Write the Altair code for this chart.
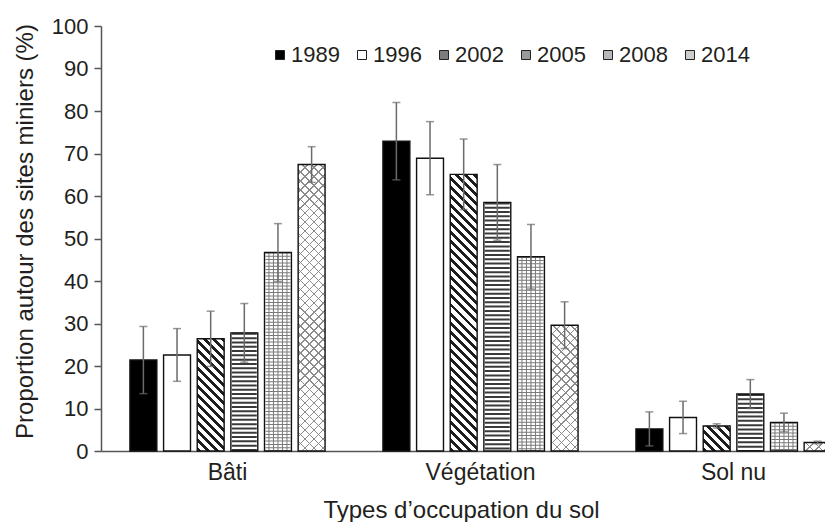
import math
import altair as alt
import pandas as pd

categories = ["Bâti", "Végétation", "Sol nu"]
years = ["1989", "1996", "2002", "2005", "2008", "2014"]

# mean proportions (%) per category, in year order
bati = [21.4, 22.6, 26.4, 27.8, 46.7, 67.4]
vegetation = [72.9, 68.9, 65.1, 58.5, 45.7, 29.6]
sol_nu = [5.2, 7.9, 5.9, 13.4, 6.7, 2.0]

# error bar half-lengths
bati_err = [7.9, 6.2, 6.5, 6.9, 6.8, 4.2]
vegetation_err = [9.1, 8.6, 8.3, 8.9, 7.6, 5.5]
sol_nu_err = [4.0, 3.8, 0.5, 3.4, 2.2, 0.3]

# legend / base fill colours
fills = ["#000000", "#ffffff", "#7d7d7d", "#9a9a9a", "#b8b8b8", "#cdcdcd"]

rows = []
for cat, vals, errs in [("Bâti", bati, bati_err),
                        ("Végétation", vegetation, vegetation_err),
                        ("Sol nu", sol_nu, sol_nu_err)]:
    for y, v, e in zip(years, vals, errs):
        rows.append({"cat": cat, "year": y, "value": v, "err": e})
df = pd.DataFrame(rows)

FONT = "Liberation Sans"
TXT = "#231f20"
AX = "#555555"

PLOT_W, PLOT_H = 724, 425
X_RANGE = 759
PX_PER_UNIT = PLOT_H / 100.0
OFF_PI, OFF_PO = 0.2, 0.86
_step = (X_RANGE / 3) / (6 - OFF_PI + 2 * OFF_PO)
BAR_W = _step * (1 - OFF_PI)

x_enc = alt.X("cat:N", sort=categories,
              scale=alt.Scale(range=[0, X_RANGE], paddingInner=0, paddingOuter=0),
              axis=alt.Axis(title="Types d’occupation du sol", labelAngle=0,
                            ticks=False, tickSize=0, domainColor=AX, domainWidth=1.5,
                            labelFontSize=23, labelColor=TXT, labelBaseline="alphabetic",
                            labelPadding=28, titleFontSize=24, titleColor=TXT,
                            titleFontWeight="normal", titleX=360, titleY=66,
                            titleBaseline="alphabetic", titleAlign="center"))
xo_enc = alt.XOffset("year:N", sort=years,
                     scale=alt.Scale(paddingInner=OFF_PI, paddingOuter=OFF_PO))
y_scale = alt.Scale(domain=[0, 100], nice=False)
y_enc = alt.Y("value:Q", scale=y_scale,
              axis=alt.Axis(values=list(range(0, 101, 10)), tickSize=7, tickColor=AX,
                            tickWidth=1.5, domainColor=AX, domainWidth=1.5, grid=False,
                            labelFontSize=22, labelColor=TXT, labelPadding=6,
                            title="Proportion autour des sites miniers (%)",
                            titleFontSize=24, titleColor=TXT, titleFontWeight="normal",
                            titleX=-69, titleY=205, titleAngle=270,
                            titleBaseline="alphabetic", titleAlign="center"))
y_plain = alt.Y("value:Q", scale=y_scale)

base = alt.Chart(df).encode(x=x_enc, xOffset=xo_enc)


def hatch(value, direction, period, thick, color, bg):
    """Diagonal hatch texture as a linear gradient in the bar's bounding box."""
    w, h = BAR_W, max(value * PX_PER_UNIT, 1.0)
    k = (w + h) / (w * w + h * h)
    if direction == "back":   # lines running top-left -> bottom-right
        x1, y1, x2, y2 = 0, 1, k * w, 1 - k * h
    else:                     # lines running bottom-left -> top-right
        x1, y1, x2, y2 = 0, 0, k * w, k * h
    length = (w + h) / math.sqrt(2)
    n = int(math.ceil(length / period)) + 1
    stops = []
    for i in range(n):
        a = min(i * period / length, 1.0)
        b = min((i * period + thick) / length, 1.0)
        c = min((i + 1) * period / length, 1.0)
        stops += [alt.GradientStop(offset=a, color=color),
                  alt.GradientStop(offset=b, color=color),
                  alt.GradientStop(offset=b, color=bg),
                  alt.GradientStop(offset=c, color=bg)]
        if c >= 1.0:
            break
    return alt.LinearGradient(gradient="linear", stops=stops, x1=x1, y1=y1, x2=x2, y2=y2)


layers = []

bars_fill = base.mark_bar(strokeWidth=0).encode(
    y=y_enc,
    fill=alt.Fill("year:N", sort=years,
                  scale=alt.Scale(domain=years, range=fills),
                  legend=alt.Legend(title=None, orient="none", direction="horizontal",
                                    legendX=168, legendY=18, symbolType="square",
                                    symbolSize=81, symbolStrokeColor="#222222",
                                    symbolStrokeWidth=1,
                                    labelFontSize=22, labelColor=TXT, labelOffset=0,
                                    columnPadding=11, padding=0)),
)
layers.append(bars_fill)

# white ground for the striped / gridded bars
white_cover = base.transform_filter(
    (alt.datum.year == "2005") | (alt.datum.year == "2008")
).mark_bar(fill="#ffffff", strokeWidth=0).encode(y=y_plain)
layers.append(white_cover)

# diagonal hatch (2002) and cross-hatch (2014)
for cat, vals in [("Bâti", bati), ("Végétation", vegetation), ("Sol nu", sol_nu)]:
    v02 = vals[2]
    layers.append(base.transform_filter(
        (alt.datum.cat == cat) & (alt.datum.year == "2002")
    ).mark_bar(fill=hatch(v02, "back", 6.4, 2.8, "#1e1e1e", "#ffffff"), strokeWidth=0
               ).encode(y=y_plain))
    v14 = vals[5]
    layers.append(base.transform_filter(
        (alt.datum.cat == cat) & (alt.datum.year == "2014")
    ).mark_bar(fill=hatch(v14, "back", 6.4, 1.0, "#8c8c8c", "#ffffff"), strokeWidth=0
               ).encode(y=y_plain))
    layers.append(base.transform_filter(
        (alt.datum.cat == cat) & (alt.datum.year == "2014")
    ).mark_bar(fill=hatch(v14, "fwd", 6.4, 1.0, "#8c8c8c", "rgba(255,255,255,0)"),
               strokeWidth=0).encode(y=y_plain))

stripes_2005 = base.transform_filter(alt.datum.year == "2005").mark_rule(
    strokeDash=[2, 2.3], strokeWidth=BAR_W - 2, color="#3a3a3a"
).encode(y=y_plain, y2=alt.datum(0))
layers.append(stripes_2005)

stripes_2008 = base.transform_filter(alt.datum.year == "2008").mark_rule(
    strokeDash=[1, 2.3], strokeWidth=BAR_W - 2, color="#7a7a7a"
).encode(y=y_plain, y2=alt.datum(0))
layers.append(stripes_2008)

for wdt in (18, 9):
    layers.append(base.transform_filter(alt.datum.year == "2008").mark_bar(
        width=wdt, fillOpacity=0, stroke="#7a7a7a", strokeWidth=1
    ).encode(y=y_plain))
layers.append(base.transform_filter(alt.datum.year == "2008").mark_rule(
    strokeWidth=1, color="#7a7a7a"
).encode(y=y_plain, y2=alt.datum(0)))

bars_outline = base.mark_bar(fill="#ffffff", fillOpacity=0, stroke="#111111",
                             strokeWidth=1.4).encode(y=y_plain)
layers.append(bars_outline)

err = base.transform_calculate(lo="datum.value - datum.err", hi="datum.value + datum.err")
layers.append(err.mark_rule(color="#6b6b6b", strokeWidth=1.5).encode(
    y=alt.Y("lo:Q", scale=y_scale), y2="hi:Q"))
layers.append(err.mark_tick(orient="horizontal", size=8, thickness=1.5, color="#6b6b6b").encode(
    y=alt.Y("hi:Q", scale=y_scale)))
layers.append(err.mark_tick(orient="horizontal", size=8, thickness=1.5, color="#6b6b6b").encode(
    y=alt.Y("lo:Q", scale=y_scale)))

chart = alt.layer(*layers).properties(
    width=PLOT_W, height=PLOT_H,
    autosize=alt.AutoSizeParams(type="none"),
    padding={"left": 93, "top": 18, "right": 0, "bottom": 71},
).configure(font=FONT).configure_view(stroke=None)

chart.save("out.html", embed_options={"renderer": "svg", "actions": False})
